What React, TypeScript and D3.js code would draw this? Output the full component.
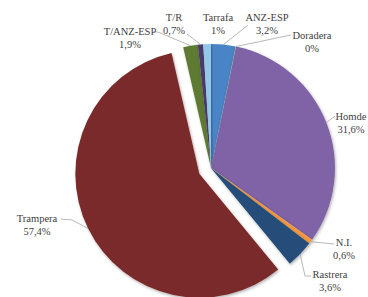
import React from "react";
import * as d3 from "d3";

const categories = ["ANZ-ESP", "Doradera", "Homde", "N.I.", "Rastrera", "Trampera", "T/ANZ-ESP", "T/R", "Tarrafa"];
const values = [3.2, 0.05, 31.6, 0.6, 3.6, 57.4, 1.9, 0.7, 1.0];
const valueLabels = ["3,2%", "0%", "31,6%", "0,6%", "3,6%", "57,4%", "1,9%", "0,7%", "1%"];
const colors = ["#4a84c6", "#9bbb59", "#7f63a6", "#f5983e", "#264e79", "#7a2b2a", "#5e7a32", "#4a3a6c", "#93c8e8"];
const exploded = ["Trampera"];

// label layout: text centre x, first baseline y, leader-line waypoints (from label side)
const labelLayout: Record<string, { x: number; y: number; line: [number, number][] }> = {
  "ANZ-ESP": { x: 267, y: 21, line: [[248, 25]] },
  Doradera: { x: 312, y: 39, line: [[291, 35]] },
  Homde: { x: 351, y: 120, line: [[335, 116]] },
  "N.I.": { x: 344, y: 246, line: [[334, 244]] },
  Rastrera: { x: 330, y: 278, line: [[311, 276], [305, 276]] },
  Trampera: { x: 37, y: 222, line: [[61, 219], [72, 220]] },
  "T/ANZ-ESP": { x: 130, y: 35, line: [[153, 32], [158, 32]] },
  "T/R": { x: 174, y: 21, line: [[187, 34]] },
  Tarrafa: { x: 218, y: 21, line: [] },
};

const W = 368;
const H = 297;
const cx = 211;
const cy = 168;
const R = 124;
const explodeDist = 13;

export default function App() {
  const data = categories.map((c, i) => ({ name: c, value: values[i], label: valueLabels[i], color: colors[i] }));
  const pie = d3.pie<any>().value((d) => d.value).sort(null).startAngle(0).endAngle(2 * Math.PI);
  const arcs = pie(data);
  const arc = d3.arc<any>().innerRadius(0).outerRadius(R);

  return (
    <svg width={W} height={H} style={{ position: "absolute", left: 0, top: 0, background: "#fff" }}>
      <defs>
        <filter id="sh" x="-20%" y="-20%" width="140%" height="140%">
          <feDropShadow dx="1" dy="1.5" stdDeviation="1.5" floodColor="#000" floodOpacity="0.3" />
        </filter>
      </defs>
      <g transform={`translate(${cx},${cy})`}>
        {arcs.map((a, i) => {
          const mid = (a.startAngle + a.endAngle) / 2;
          const off = exploded.includes(a.data.name) ? explodeDist : 0;
          const dx = Math.sin(mid) * off;
          const dy = -Math.cos(mid) * off;
          return (
            <path
              key={i}
              d={arc(a) as string}
              fill={a.data.color}
              transform={`translate(${dx},${dy})`}
              filter="url(#sh)"
            />
          );
        })}
      </g>
      {arcs.map((a, i) => {
        const lay = labelLayout[a.data.name];
        const mid = (a.startAngle + a.endAngle) / 2;
        const off = exploded.includes(a.data.name) ? explodeDist : 0;
        const px = cx + Math.sin(mid) * (R + off);
        const py = cy - Math.cos(mid) * (R + off);
        const pts = lay.line.length ? [...lay.line, [px, py]] : [];
        return (
          <g key={"l" + i}>
            {pts.length > 0 && (
              <polyline
                points={pts.map((p) => p.join(",")).join(" ")}
                fill="none"
                stroke="#a6a6a6"
                strokeWidth={0.8}
              />
            )}
            <text
              x={lay.x}
              y={lay.y}
              textAnchor="middle"
              fontFamily="'Liberation Serif', serif"
              fontSize={10.5}
              fill="#404040"
            >
              <tspan x={lay.x}>{a.data.name}</tspan>
              <tspan x={lay.x} dy={12.5}>{a.data.label}</tspan>
            </text>
          </g>
        );
      })}
    </svg>
  );
}
